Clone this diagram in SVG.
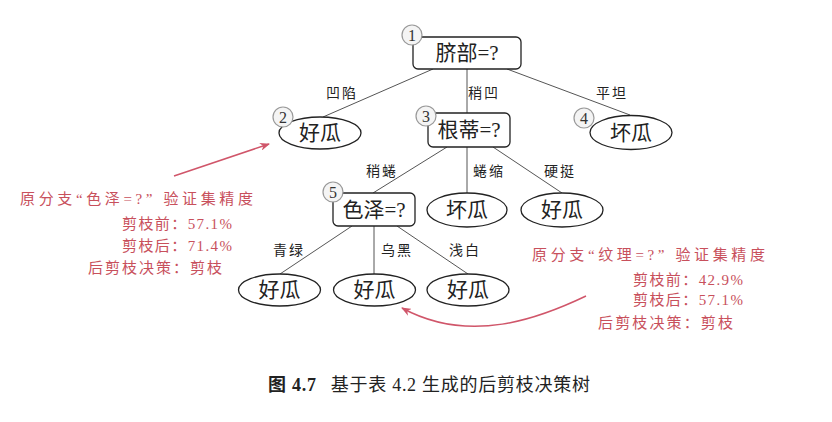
<svg xmlns="http://www.w3.org/2000/svg" width="832" height="422" viewBox="0 0 832 422">
<defs>
<style>
.box{fill:#fff;stroke:#222;stroke-width:1.3}
.leaf{fill:#fff;stroke:#222;stroke-width:1.3}
.num{fill:#f4f4f4;stroke:#999;stroke-width:1.2}
.numt{font-family:"Liberation Serif",serif;font-size:16px;fill:#333;text-anchor:middle}
.nt{font-family:"Liberation Serif","Noto Sans CJK SC",serif;font-size:21px;fill:#222;text-anchor:middle}
.el{stroke:#555;stroke-width:1;fill:none}
.lb{font-family:"Noto Sans CJK SC",sans-serif;font-size:14px;fill:#222;text-anchor:middle;letter-spacing:2px}
.red{font-family:"Liberation Serif","Noto Sans CJK SC",serif;font-size:15px;fill:#c8505c}
.ra{stroke:#d0566a;stroke-width:1.5;fill:none}
.cap{font-family:"Liberation Serif","Noto Sans CJK SC",serif;font-size:18px;fill:#222}
</style>
<marker id="ah" markerWidth="10" markerHeight="8" refX="9" refY="4" orient="auto" markerUnits="userSpaceOnUse">
<path d="M0,0 L10,4 L0,8 L3,4 Z" fill="#d0566a"/>
</marker>
</defs>
<g id="edges">
<line class="el" x1="433" y1="69" x2="323" y2="117"/>
<line class="el" x1="467" y1="69" x2="467" y2="113"/>
<line class="el" x1="507" y1="69" x2="630" y2="115"/>
<line class="el" x1="447" y1="147" x2="373" y2="193"/>
<line class="el" x1="467" y1="147" x2="467" y2="193"/>
<line class="el" x1="493" y1="147" x2="562" y2="193"/>
<line class="el" x1="352" y1="226" x2="280" y2="274"/>
<line class="el" x1="374" y1="226" x2="374" y2="274"/>
<line class="el" x1="397" y1="226" x2="468" y2="274"/>
<text class="lb" x="342" y="98">凹陷</text>
<text class="lb" x="484" y="98">稍凹</text>
<text class="lb" x="612" y="98">平坦</text>
<text class="lb" x="382" y="176">稍蜷</text>
<text class="lb" x="489" y="176">蜷缩</text>
<text class="lb" x="560" y="176">硬挺</text>
<text class="lb" x="289" y="255">青绿</text>
<text class="lb" x="397" y="255">乌黑</text>
<text class="lb" x="465" y="255">浅白</text>
</g>
<g id="n1">
<rect class="box" x="413" y="37" width="108" height="32" rx="5"/>
<text class="nt" x="467" y="60">脐部=?</text>
<circle class="num" cx="412" cy="35" r="10"/>
<text class="numt" x="412" y="40.5">1</text>
</g>
<g id="n2">
<ellipse class="leaf" cx="320" cy="133" rx="41" ry="16"/>
<text class="nt" x="320" y="140">好瓜</text>
<circle class="num" cx="283" cy="117" r="10"/>
<text class="numt" x="283" y="122.5">2</text>
</g>
<g id="n3">
<rect class="box" x="428" y="113" width="82" height="34" rx="5"/>
<text class="nt" x="469" y="137">根蒂=?</text>
<circle class="num" cx="426" cy="116" r="10"/>
<text class="numt" x="426" y="121.5">3</text>
</g>
<g id="n4">
<ellipse class="leaf" cx="631" cy="132.5" rx="41" ry="17"/>
<text class="nt" x="631" y="140">坏瓜</text>
<circle class="num" cx="584" cy="118" r="10"/>
<text class="numt" x="584" y="123.5">4</text>
</g>
<g id="n5">
<rect class="box" x="333" y="193" width="82" height="33" rx="5"/>
<text class="nt" x="374" y="217">色泽=?</text>
<circle class="num" cx="333" cy="192" r="10"/>
<text class="numt" x="333" y="197.5">5</text>
</g>
<g id="n6">
<ellipse class="leaf" cx="467" cy="210" rx="40" ry="17"/>
<text class="nt" x="467" y="217">坏瓜</text>
</g>
<g id="n7">
<ellipse class="leaf" cx="562" cy="210" rx="41" ry="17"/>
<text class="nt" x="562" y="217">好瓜</text>
</g>
<g id="n8">
<ellipse class="leaf" cx="279.5" cy="290" rx="41" ry="16"/>
<text class="nt" x="279.5" y="297">好瓜</text>
</g>
<g id="n9">
<ellipse class="leaf" cx="374.5" cy="290" rx="41" ry="16"/>
<text class="nt" x="374.5" y="297">好瓜</text>
</g>
<g id="n10">
<ellipse class="leaf" cx="468" cy="290" rx="41" ry="16"/>
<text class="nt" x="468" y="297">好瓜</text>
</g>
<g id="notes">
<path class="ra" d="M174,176 L269,144" marker-end="url(#ah)"/>
<path class="ra" d="M586,296 C540,318 470,345 402,308" marker-end="url(#ah)"/>
<text class="red" x="20" y="204" textLength="233" lengthAdjust="spacing">原分支“色泽=?” 验证集精度</text>
<text class="red" x="122" y="229" textLength="110" lengthAdjust="spacing">剪枝前：57.1%</text>
<text class="red" x="122" y="251" textLength="110" lengthAdjust="spacing">剪枝后：71.4%</text>
<text class="red" x="88" y="273" textLength="134" lengthAdjust="spacing">后剪枝决策：剪枝</text>
<text class="red" x="532" y="260" textLength="233" lengthAdjust="spacing">原分支“纹理=?” 验证集精度</text>
<text class="red" x="633" y="285" textLength="110" lengthAdjust="spacing">剪枝前：42.9%</text>
<text class="red" x="633" y="305" textLength="110" lengthAdjust="spacing">剪枝后：57.1%</text>
<text class="red" x="598" y="328" textLength="135" lengthAdjust="spacing">后剪枝决策：剪枝</text>
</g>
<text class="cap" x="268" y="391" textLength="322" lengthAdjust="spacing"><tspan font-weight="bold">图 4.7</tspan><tspan dx="14">基于表 4.2 生成的后剪枝决策树</tspan></text>
</svg>
